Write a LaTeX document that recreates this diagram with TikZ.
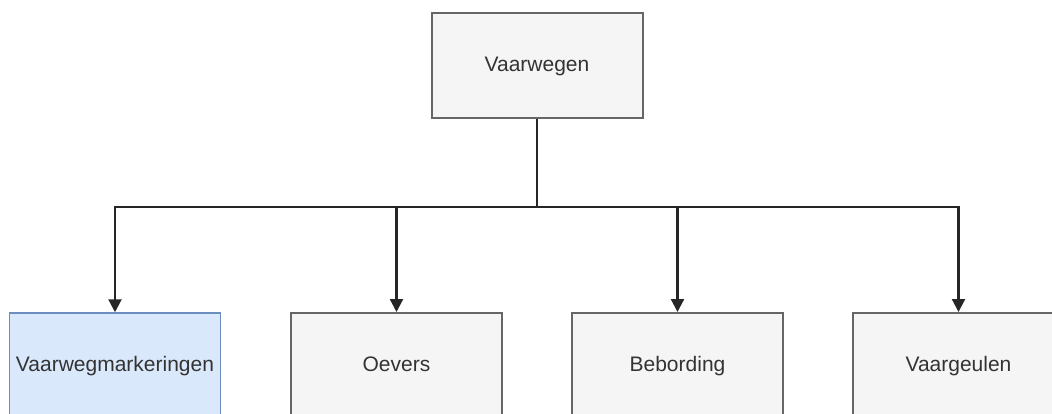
\documentclass[tikz,border=0pt]{standalone}
\usepackage{fontspec}
\setmainfont{Liberation Sans}
\usetikzlibrary{arrows.meta}
\definecolor{boxfill}{HTML}{F5F5F5}
\definecolor{boxdraw}{HTML}{666666}
\definecolor{bluefill}{HTML}{DAE8FC}
\definecolor{bluedraw}{HTML}{6C8EBF}
\definecolor{txt}{HTML}{333333}
\begin{document}
\begin{tikzpicture}[x=1pt,y=-1pt,
  box/.style={draw=boxdraw,fill=boxfill,line width=2pt,minimum width=211pt,minimum height=105pt,inner sep=0pt,text=txt,font=\fontsize{21}{24}\selectfont,text height=15pt,text depth=4pt},
  bluebox/.style={box,draw=bluedraw,fill=bluefill,line width=1.5pt},
  conn/.style={draw=black!85,line width=2.2pt,-{Triangle[length=13pt,width=13pt]}},
  bus/.style={draw=black!85,line width=2.2pt}]
\useasboundingbox (0,0) rectangle (1052,414);
\clip (0,0) rectangle (1052,414);
\fill[white] (0,0) rectangle (1052,414);
\node[box] (top) at (537,66) {Vaarwegen};
\node[bluebox] (b1) at (115,365.5) {Vaarwegmarkeringen};
\node[box] (b2) at (396.5,365.5) {Oevers};
\node[box] (b3) at (677.5,365.5) {Bebording};
\node[box] (b4) at (958.5,365.5) {Vaargeulen};
\coordinate (j) at (537,207);
\draw[bus] (top.south) -- (j);
\draw[conn] (j) -| (b1.north);
\draw[conn] (j) -| (b2.north);
\draw[conn] (j) -| (b3.north);
\draw[conn] (j) -| (b4.north);
\end{tikzpicture}
\end{document}
